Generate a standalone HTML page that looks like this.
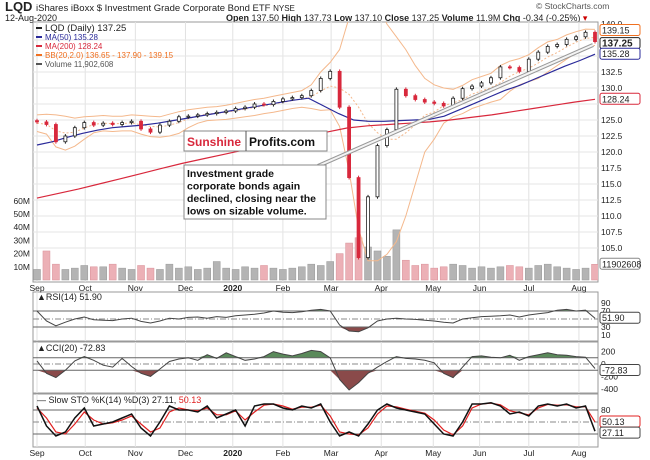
<!DOCTYPE html>
<html><head><meta charset="utf-8"><style>
body{margin:0;background:#fff;}
svg{display:block;font-family:"Liberation Sans",sans-serif;}
</style></head><body>
<svg id="c" width="650" height="460" viewBox="0 0 650 460">
<g id="hdr">
<text x="5" y="11" font-size="13" font-weight="bold" fill="#222">LQD</text>
<text x="36" y="11" font-size="9.5" fill="#222">iShares iBoxx $ Investment Grade Corporate Bond ETF <tspan font-size="8">NYSE</tspan></text>
<text x="5" y="21" font-size="9" fill="#222">12-Aug-2020</text>
<text x="226" y="21" font-size="9" fill="#222"><tspan font-weight="bold">Open</tspan> 137.50 <tspan font-weight="bold">High</tspan> 137.73 <tspan font-weight="bold">Low</tspan> 137.10 <tspan font-weight="bold">Close</tspan> 137.25 <tspan font-weight="bold">Volume</tspan> 11.9M <tspan font-weight="bold">Chg</tspan> -0.34 (-0.25%) <tspan fill="#c00">▾</tspan></text>
<text x="536" y="9" font-size="8.5" fill="#555">© StockCharts.com</text>
</g>
<g id="main"></g>
</svg>
<script>
const closes=[124.7,124.3,121.6,122.5,123.8,124.6,124.2,124.5,124.3,124.6,124.8,123.6,123.1,124.2,124.8,125.5,125.6,125.8,126.0,126.2,126.4,126.8,127.0,127.5,127.4,127.9,128.3,128.5,128.8,129.6,131.5,132.6,127.0,116.0,103.5,113.0,121.0,123.5,129.8,128.8,128.2,127.8,127.6,127.2,128.4,129.9,130.3,130.8,131.6,133.3,133.2,132.6,134.5,135.6,136.5,136.8,137.6,138.0,138.7,137.25];
const bbUpper=[125.8,125.9,125.8,125.6,125.3,125.5,125.6,125.7,125.6,125.6,125.8,125.7,125.6,125.5,125.9,126.3,126.6,126.8,127.0,127.1,127.3,127.6,127.9,128.2,128.4,128.7,129.0,129.3,129.6,130.5,132.5,134.0,136.0,141.0,146.0,146.0,143.0,140.0,138.0,136.0,133.5,131.5,130.5,130.0,129.8,130.4,131.3,131.8,132.3,133.5,134.2,134.6,135.2,136.3,137.2,137.6,138.3,138.8,139.2,139.15];
const bbLower=[123.2,122.8,120.8,120.3,120.9,122.0,123.0,123.3,123.2,123.3,123.3,122.8,122.4,122.3,122.5,122.9,123.8,124.5,124.9,125.0,125.1,125.3,125.5,125.7,126.0,126.2,126.5,126.8,127.0,126.8,126.5,126.6,124.0,117.0,108.0,103.0,103.0,104.0,106.0,110.0,115.0,120.0,122.0,124.5,125.5,126.0,126.8,127.3,127.8,128.2,129.5,130.5,131.0,131.5,132.5,133.5,134.5,135.5,136.3,136.65];
const ma50=[121.1,121.6,122.3,122.9,123.4,123.8,124.0,124.2,124.5,124.9,125.3,125.7,126.1,126.5,126.9,127.3,127.7,128.1,128.4,127.2,126.0,125.0,124.8,124.8,124.9,125.0,125.1,125.6,126.6,127.6,128.6,129.6,130.4,131.4,132.4,133.4,134.3,135.28];
const ma200=[112.8,113.5,114.2,115.0,115.8,116.6,117.4,118.2,118.9,119.6,120.3,121.0,121.7,122.4,123.1,123.75,124.1,124.3,124.5,124.7,125.0,125.4,125.8,126.3,126.8,127.3,127.8,128.24];
const volumes=[8,22,12,8,9,11,10,10,12,9,8,11,9,8,12,9,10,8,9,14,9,8,10,9,11,9,8,9,10,12,11,14,20,28,32,25,22,18,38,15,11,12,9,10,12,11,9,10,9,10,11,10,9,11,12,10,9,8,9,11.9];
const rsi=[70,45,33,42,50,55,48,47,46,50,52,44,40,45,52,50,54,55,52,56,54,58,60,62,65,70,67,66,68,72,74,70,35,20,18,28,45,50,52,50,49,47,45,42,40,50,53,56,57,58,60,55,60,63,66,72,74,70,72,51.9];
const cci=[50,-150,-220,-100,50,120,60,-20,-50,90,-40,-150,-200,-80,40,80,100,60,150,90,180,120,60,80,120,200,160,130,170,220,200,100,-250,-420,-300,-150,-50,40,120,90,80,60,20,-150,-220,-50,120,130,110,100,140,60,120,150,180,150,140,120,110,-72.83];
const stoK=[90,40,15,25,60,85,40,45,50,60,70,35,15,50,90,80,80,75,90,60,70,80,40,90,95,95,85,80,90,85,95,50,15,25,15,45,80,95,85,80,75,70,45,20,15,50,95,95,98,90,70,75,65,90,95,90,95,85,90,27.11];
const stoD=[85,60,25,20,45,75,55,45,48,55,65,45,25,35,75,85,80,78,85,68,68,78,55,75,92,95,90,82,87,87,92,65,25,20,18,35,70,90,88,82,77,72,55,30,18,40,85,95,97,93,78,73,68,85,94,92,93,88,88,50.13];
const months=["Sep","Oct","Nov","Dec","2020","Feb","Mar","Apr","May","Jun","Jul","Aug"];
const monthPos=[0,5.1,10.4,15.7,20.7,26,31.1,36.4,41.9,46.8,52,57.3];
const priceTicks=[105,107.5,110,112.5,115,117.5,120,122.5,125,127.5,130,132.5,135,137.5,140];
const volTicks=[10,20,30,40,50,60];

const NS="http://www.w3.org/2000/svg";
const svg=document.getElementById('main');
const L=33,R=598,X0=37,X1=595;
const xs=i=>X0+i*(X1-X0)/(closes.length-1);
const xsN=(i,n)=>X0+i*(X1-X0)/(n-1);
const yP=p=>88-(p-130)*6.4;
const yV=v=>280-v*1.32;
const yR=v=>339-v*0.4;
const yC=v=>364-v*0.062;
const yS=v=>442-v*0.4;
function mk(tag,attrs,parent){const e=document.createElementNS(NS,tag);for(const k in attrs)e.setAttribute(k,attrs[k]);(parent||svg).appendChild(e);return e;}
function txt(x,y,s,attrs,parent){const t=mk('text',Object.assign({x:x,y:y,'font-size':8.5,fill:'#222'},attrs||{}),parent);t.textContent=s;return t;}
function poly(arr,fx,fy,n){return arr.map((v,i)=>(n?xsN(i,n):fx(i)).toFixed(1)+','+fy(v).toFixed(1)).join(' ');}

const panels=[[22,282],[292,341],[342,393],[394,447]];
const defs=mk('defs',{});
const cp=mk('clipPath',{id:'mc'},defs);mk('rect',{x:L,y:22,width:R-L,height:260},cp);
panels.forEach((p,k)=>{
  const r=mk('rect',{x:L,y:p[0],width:R-L,height:p[1]-p[0],fill:'#fff',stroke:'#999','stroke-width':1});
  
  
  monthPos.forEach(m=>{const g=mk('line',{x1:xs(m),x2:xs(m),y1:p[0],y2:p[1],stroke:'#e2e2e2'});});
});
priceTicks.forEach(t=>{const y=yP(t);if(y>24&&y<280){const g=mk('line',{x1:L,x2:R,y1:y,y2:y,stroke:'#e6e6e6'});}
  if(y>60&&y<250&&Math.abs(t-127.5)>0.1){const l=txt(601,y+3,t.toFixed(1),{'font-size':8.5});}});
volTicks.forEach(t=>{const y=yV(t);const l=txt(30,y+3,t+'M',{'font-size':8.5,'text-anchor':'end'});});
[[282+9],[447+9]].forEach(r=>{monthPos.forEach((m,i)=>{const l=txt(xs(m),r[0],months[i],{'font-size':8.5,'text-anchor':'middle','font-weight':months[i]==='2020'?'bold':'normal'});});});

const g=mk('g',{'clip-path':'url(#mc)'});
volumes.forEach((v,i)=>{const up=i===0||closes[i]>=closes[i-1];const b=mk('rect',{x:xs(i)-3.5,y:yV(v),width:7,height:280-yV(v),fill:up?'#b4b4b4':'#ecb0b6',stroke:up?'#999':'#d89098','stroke-width':0.5},g);});
let e;
e=mk('polyline',{points:poly(bbUpper,xs,yP),fill:'none',stroke:'#f4b88c','stroke-width':1},g);
e=mk('polyline',{points:poly(bbLower,xs,yP),fill:'none',stroke:'#f4b88c','stroke-width':1},g);
e=mk('polyline',{points:bbUpper.map((u,i)=>xs(i).toFixed(1)+','+yP((u+bbLower[i])/2).toFixed(1)).join(' '),fill:'none',stroke:'#f4b88c','stroke-width':1,'stroke-dasharray':'2,2'},g);
e=mk('polyline',{points:poly(ma200,null,yP,ma200.length),fill:'none',stroke:'#d8283c','stroke-width':1.2},g);
e=mk('polyline',{points:poly(ma50,null,yP,ma50.length),fill:'none',stroke:'#2a2a9a','stroke-width':1.2},g);
closes.forEach((c,i)=>{const o=i?closes[i-1]:c+0.2;const up=c>=o;const col=up?'#222':'#d8283c';const x=xs(i);
  const hi=Math.max(o,c)+0.3,lo=Math.min(o,c)-0.3;
  const w=mk('line',{x1:x,x2:x,y1:yP(hi),y2:yP(lo),stroke:col,'stroke-width':1},g);
  const top=yP(Math.max(o,c)),h=Math.max(1,Math.abs(yP(o)-yP(c)));
  const b=mk('rect',{x:x-1.5,y:top,width:3,height:h,fill:up?'#fff':col,stroke:col,'stroke-width':0.8},g);});
e=mk('line',{x1:318,y1:166,x2:593,y2:45,stroke:'#999','stroke-width':4},g);
mk('line',{x1:318,y1:166,x2:593,y2:45,stroke:'#f4f4f4','stroke-width':2},g);
const lg=[['LQD (Daily) 137.25','#222',9.5],['MA(50) 135.28','#2a2a9a',8],['MA(200) 128.24','#d8283c',8],['BB(20,2.0) 136.65 - 137.90 - 139.15','#f07020',8],['Volume 11,902,608','#555',8]];
lg.forEach((l,i)=>{const y=31+i*9;mk('line',{x1:36,x2:42,y1:y-3,y2:y-3,stroke:l[1],'stroke-width':2});const t=txt(45,y,l[0],{'font-size':l[2],fill:l[1]});});
function box(y,s,col,bold){const r=mk('rect',{x:600,y:y-6,width:40,height:11,fill:'#fff',stroke:col,'stroke-width':1,rx:2});const t=txt(602,y+3,s,{'font-size':bold?10:9,'font-weight':bold?'bold':'normal',fill:'#222'});}
txt(601,27,'140.0',{'font-size':8.5});
box(yP(bbUpper[59])+1,'139.15','#f07020');box(yP(closes[59])+2,'137.25','#222',true);box(yP(ma50[ma50.length-1]),'135.28','#2a2a9a');box(yP(ma200[ma200.length-1]),'128.24','#d8283c');
box(yV(volumes[59]),'11902608','#888');
const a1=mk('g',{});
mk('rect',{x:184,y:131,width:143,height:20,fill:'#fff',stroke:'#888'},a1);mk('line',{x1:246,x2:246,y1:131,y2:151,stroke:'#555'},a1);
txt(187,146,'Sunshine',{'font-size':12,'font-weight':'bold',fill:'#d8283c'},a1);txt(249,146,'Profits.com',{'font-size':12,'font-weight':'bold',fill:'#111'},a1);
const a2=mk('g',{});
mk('rect',{x:184,y:165,width:142,height:54,fill:'#fff',stroke:'#888'},a2);
['Investment grade','corporate bonds again','declined, closing near the','lows on sizable volume.'].forEach((s,i)=>txt(187,177+i*12.5,s,{'font-size':10.5,'font-weight':'bold',fill:'#111'},a2));

function refLine(y,dash){const l=mk('line',{x1:L,x2:R,y1:y,y2:y,stroke:dash?'#888':'#666','stroke-width':1,'stroke-dasharray':dash?'6,2,1,2':''});}
function fillBand(arr,fy,thr,above,col){let pts=[];arr.forEach((v,i)=>{const c=above?Math.max(v,thr):Math.min(v,thr);pts.push(xs(i).toFixed(1)+','+fy(c).toFixed(1));});const p=mk('polygon',{points:xs(0)+','+fy(thr)+' '+pts.join(' ')+' '+xs(arr.length-1)+','+fy(thr),fill:col,stroke:'none'});}
fillBand(rsi,yR,70,true,'#5a8a5a');fillBand(rsi,yR,30,false,'#8a4a4a');
refLine(yR(70));refLine(yR(30));refLine(yR(50),true);
e=mk('polyline',{points:poly(rsi,xs,yR),fill:'none',stroke:'#444','stroke-width':1});
[90,70,30,10].forEach(t=>{const l=txt(601,yR(t)+3,String(t),{'font-size':8.5});});
box(yR(51.9),'51.90','#444');
e=txt(37,300,'▲RSI(14) 51.90',{'font-size':9});
fillBand(cci,yC,100,true,'#5a8a5a');fillBand(cci,yC,-100,false,'#8a4a4a');
refLine(yC(100));refLine(yC(-100));refLine(yC(0),true);
e=mk('polyline',{points:poly(cci,xs,yC),fill:'none',stroke:'#444','stroke-width':1});
[200,0,-200,-400].forEach(t=>{const l=txt(601,yC(t)+3,String(t),{'font-size':8.5});});
box(yC(-72.83)+2,'-72.83','#444');
e=txt(37,351,'▲CCI(20) -72.83',{'font-size':9});
refLine(yS(80));refLine(yS(20));refLine(yS(50),true);
e=mk('polyline',{points:poly(stoD,xs,yS),fill:'none',stroke:'#e02020','stroke-width':1.2});
e=mk('polyline',{points:poly(stoK,xs,yS),fill:'none',stroke:'#111','stroke-width':1.5});
[80,20].forEach(t=>{const l=txt(601,yS(t)+3,String(t),{'font-size':8.5});});
box(yS(50.13),'50.13','#e02020');box(yS(27.11)+2,'27.11','#444');
e=txt(37,403,'— Slow STO %K(14) %D(3) 27.11, ',{'font-size':9});
const ts=document.createElementNS(NS,'tspan');ts.setAttribute('fill','#e02020');ts.textContent='50.13';e.appendChild(ts);
</script>
</body></html>
